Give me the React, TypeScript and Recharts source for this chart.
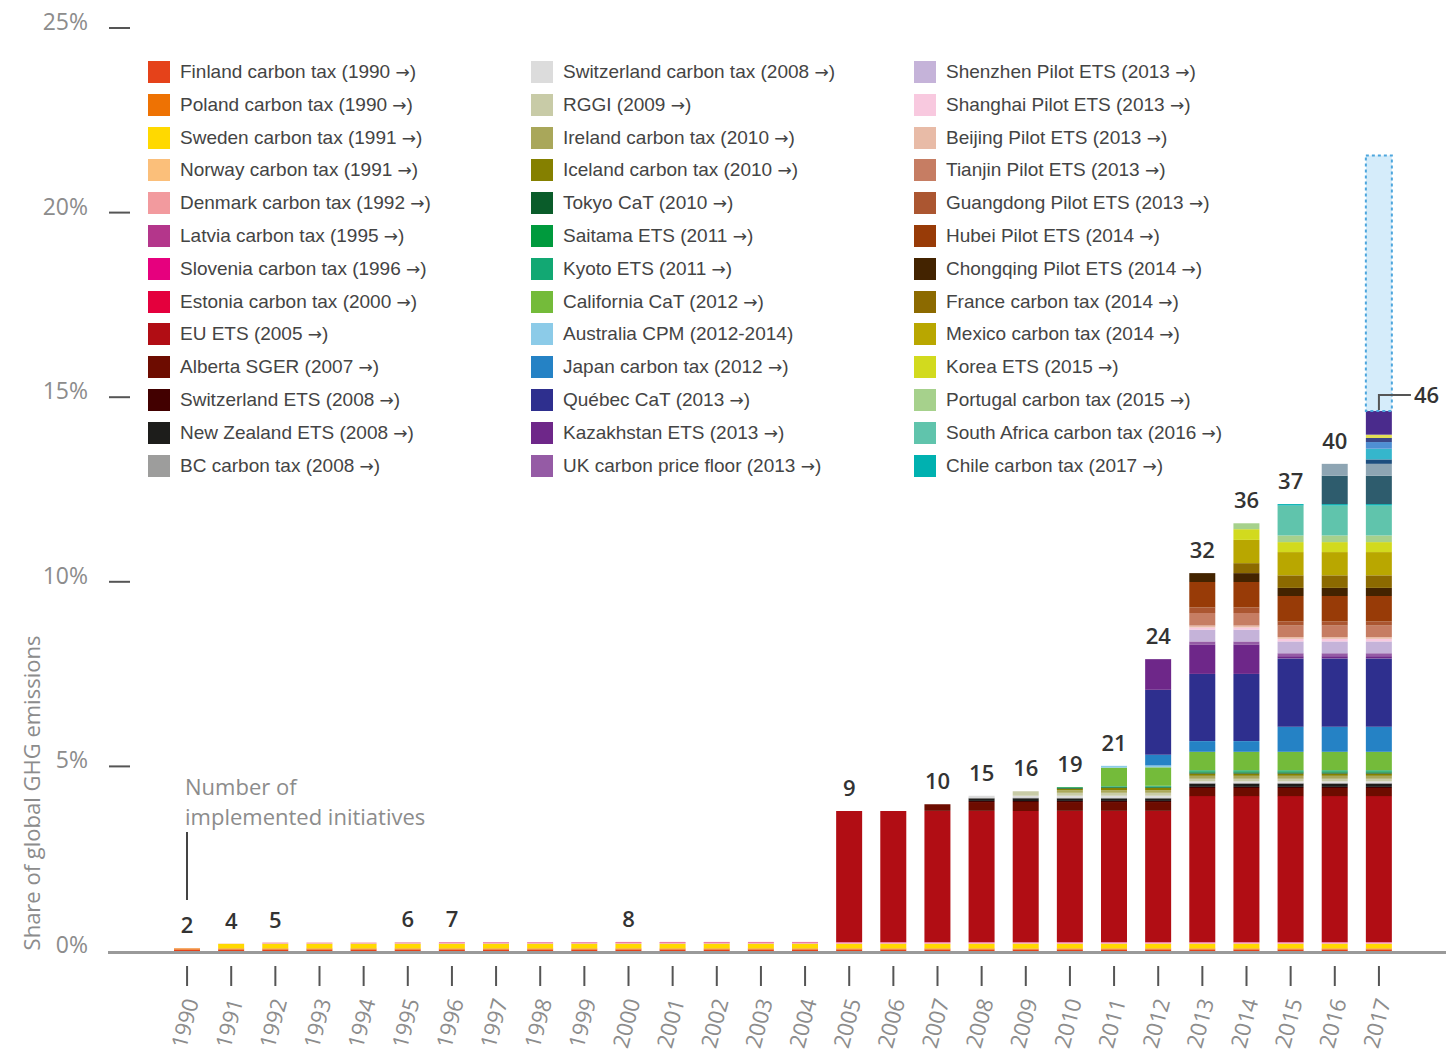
import React from 'react';
import { ComposedChart, Bar, Line, XAxis, YAxis, Legend, LabelList, ReferenceLine } from 'recharts';

// ---------- data ----------
const years = [
  '1990', '1991', '1992', '1993', '1994', '1995', '1996', '1997', '1998', '1999',
  '2000', '2001', '2002', '2003', '2004', '2005', '2006', '2007', '2008', '2009',
  '2010', '2011', '2012', '2013', '2014', '2015', '2016', '2017',
];
const initiativeCounts = [
  2, 4, 5, null, null, 6, 7, null, null, null,
  8, null, null, null, null, 9, null, 10, 15, 16,
  19, 21, 24, 32, 36, 37, 40, 46,
];
const yTicks = [0, 5, 10, 15, 20, 25];

// share of global GHG emissions (%), 1990 ... 2017
const finland = [0.04, 0.04, 0.04, 0.04, 0.04, 0.04, 0.04, 0.04, 0.04, 0.04, 0.04, 0.04, 0.04, 0.04, 0.04, 0.04, 0.04, 0.04, 0.04, 0.04, 0.04, 0.04, 0.04, 0.04, 0.04, 0.04, 0.04, 0.04];
const poland = [0.03, 0.03, 0.03, 0.03, 0.03, 0.03, 0.03, 0.03, 0.03, 0.03, 0.03, 0.03, 0.03, 0.03, 0.03, 0.03, 0.03, 0.03, 0.03, 0.03, 0.03, 0.03, 0.03, 0.03, 0.03, 0.03, 0.03, 0.03];
const sweden = [0, 0.12, 0.12, 0.12, 0.12, 0.12, 0.12, 0.12, 0.12, 0.12, 0.12, 0.12, 0.12, 0.12, 0.12, 0.12, 0.12, 0.12, 0.12, 0.12, 0.12, 0.12, 0.12, 0.12, 0.12, 0.12, 0.12, 0.12];
const norway = [0, 0.01, 0.01, 0.01, 0.01, 0.01, 0.01, 0.01, 0.01, 0.01, 0.01, 0.01, 0.01, 0.01, 0.01, 0.01, 0.01, 0.01, 0.01, 0.01, 0.01, 0.01, 0.01, 0.01, 0.01, 0.01, 0.01, 0.01];
const denmark = [0, 0, 0.03, 0.03, 0.03, 0.03, 0.03, 0.03, 0.03, 0.03, 0.03, 0.03, 0.03, 0.03, 0.03, 0.03, 0.03, 0.03, 0.03, 0.03, 0.03, 0.03, 0.03, 0.03, 0.03, 0.03, 0.03, 0.03];
const latvia = [0, 0, 0, 0, 0, 0.005, 0.005, 0.005, 0.005, 0.005, 0.005, 0.005, 0.005, 0.005, 0.005, 0.005, 0.005, 0.005, 0.005, 0.005, 0.005, 0.005, 0.005, 0.005, 0.005, 0.005, 0.005, 0.005];
const slovenia = [0, 0, 0, 0, 0, 0, 0.005, 0.005, 0.005, 0.005, 0.005, 0.005, 0.005, 0.005, 0.005, 0.005, 0.005, 0.005, 0.005, 0.005, 0.005, 0.005, 0.005, 0.005, 0.005, 0.005, 0.005, 0.005];
const estonia = [0, 0, 0, 0, 0, 0, 0, 0, 0, 0, 0.005, 0.005, 0.005, 0.005, 0.005, 0.005, 0.005, 0.005, 0.005, 0.005, 0.005, 0.005, 0.005, 0.005, 0.005, 0.005, 0.005, 0.005];
const euEts = [0, 0, 0, 0, 0, 0, 0, 0, 0, 0, 0, 0, 0, 0, 0, 3.55, 3.55, 3.55, 3.55, 3.55, 3.55, 3.55, 3.55, 3.95, 3.95, 3.95, 3.95, 3.95];
const alberta = [0, 0, 0, 0, 0, 0, 0, 0, 0, 0, 0, 0, 0, 0, 0, 0, 0, 0.18, 0.24, 0.24, 0.24, 0.24, 0.24, 0.22, 0.22, 0.22, 0.22, 0.22];
const switzEts = [0, 0, 0, 0, 0, 0, 0, 0, 0, 0, 0, 0, 0, 0, 0, 0, 0, 0, 0.03, 0.03, 0.03, 0.03, 0.03, 0.03, 0.03, 0.03, 0.03, 0.03];
const nzEts = [0, 0, 0, 0, 0, 0, 0, 0, 0, 0, 0, 0, 0, 0, 0, 0, 0, 0, 0.07, 0.07, 0.07, 0.07, 0.07, 0.09, 0.09, 0.09, 0.09, 0.09];
const bcTax = [0, 0, 0, 0, 0, 0, 0, 0, 0, 0, 0, 0, 0, 0, 0, 0, 0, 0, 0.02, 0.02, 0.02, 0.02, 0.02, 0.02, 0.02, 0.02, 0.02, 0.02];
const switzTax = [0, 0, 0, 0, 0, 0, 0, 0, 0, 0, 0, 0, 0, 0, 0, 0, 0, 0, 0.05, 0.05, 0.05, 0.05, 0.05, 0.04, 0.04, 0.04, 0.04, 0.04];
const rggi = [0, 0, 0, 0, 0, 0, 0, 0, 0, 0, 0, 0, 0, 0, 0, 0, 0, 0, 0, 0.12, 0.08, 0.08, 0.08, 0.07, 0.07, 0.07, 0.07, 0.07];
const ireland = [0, 0, 0, 0, 0, 0, 0, 0, 0, 0, 0, 0, 0, 0, 0, 0, 0, 0, 0, 0, 0.07, 0.07, 0.07, 0.08, 0.08, 0.08, 0.08, 0.08];
const iceland = [0, 0, 0, 0, 0, 0, 0, 0, 0, 0, 0, 0, 0, 0, 0, 0, 0, 0, 0, 0, 0.04, 0.06, 0.06, 0.06, 0.06, 0.06, 0.06, 0.06];
const tokyo = [0, 0, 0, 0, 0, 0, 0, 0, 0, 0, 0, 0, 0, 0, 0, 0, 0, 0, 0, 0, 0.02, 0.02, 0.02, 0.03, 0.03, 0.03, 0.03, 0.03];
const saitama = [0, 0, 0, 0, 0, 0, 0, 0, 0, 0, 0, 0, 0, 0, 0, 0, 0, 0, 0, 0, 0.02, 0.02, 0.02, 0.03, 0.03, 0.03, 0.03, 0.03];
const kyoto = [0, 0, 0, 0, 0, 0, 0, 0, 0, 0, 0, 0, 0, 0, 0, 0, 0, 0, 0, 0, 0, 0.01, 0.02, 0.03, 0.03, 0.03, 0.03, 0.03];
const california = [0, 0, 0, 0, 0, 0, 0, 0, 0, 0, 0, 0, 0, 0, 0, 0, 0, 0, 0, 0, 0, 0.5, 0.5, 0.5, 0.5, 0.5, 0.5, 0.5];
const australia = [0, 0, 0, 0, 0, 0, 0, 0, 0, 0, 0, 0, 0, 0, 0, 0, 0, 0, 0, 0, 0, 0.05, 0.05, 0, 0, 0, 0, 0];
const japan = [0, 0, 0, 0, 0, 0, 0, 0, 0, 0, 0, 0, 0, 0, 0, 0, 0, 0, 0, 0, 0, 0, 0.29, 0.29, 0.29, 0.68, 0.68, 0.68];
const quebec = [0, 0, 0, 0, 0, 0, 0, 0, 0, 0, 0, 0, 0, 0, 0, 0, 0, 0, 0, 0, 0, 0, 1.76, 1.82, 1.82, 1.85, 1.85, 1.85];
const kazakhstan = [0, 0, 0, 0, 0, 0, 0, 0, 0, 0, 0, 0, 0, 0, 0, 0, 0, 0, 0, 0, 0, 0, 0.83, 0.8, 0.8, 0.06, 0.06, 0.06];
const ukFloor = [0, 0, 0, 0, 0, 0, 0, 0, 0, 0, 0, 0, 0, 0, 0, 0, 0, 0, 0, 0, 0, 0, 0, 0.08, 0.08, 0.08, 0.08, 0.08];
const shenzhen = [0, 0, 0, 0, 0, 0, 0, 0, 0, 0, 0, 0, 0, 0, 0, 0, 0, 0, 0, 0, 0, 0, 0, 0.32, 0.32, 0.32, 0.32, 0.32];
const shanghai = [0, 0, 0, 0, 0, 0, 0, 0, 0, 0, 0, 0, 0, 0, 0, 0, 0, 0, 0, 0, 0, 0, 0, 0.06, 0.06, 0.07, 0.07, 0.07];
const beijing = [0, 0, 0, 0, 0, 0, 0, 0, 0, 0, 0, 0, 0, 0, 0, 0, 0, 0, 0, 0, 0, 0, 0, 0.05, 0.05, 0.05, 0.05, 0.05];
const tianjin = [0, 0, 0, 0, 0, 0, 0, 0, 0, 0, 0, 0, 0, 0, 0, 0, 0, 0, 0, 0, 0, 0, 0, 0.34, 0.34, 0.31, 0.31, 0.31];
const guangdong = [0, 0, 0, 0, 0, 0, 0, 0, 0, 0, 0, 0, 0, 0, 0, 0, 0, 0, 0, 0, 0, 0, 0, 0.15, 0.15, 0.11, 0.11, 0.11];
const hubei = [0, 0, 0, 0, 0, 0, 0, 0, 0, 0, 0, 0, 0, 0, 0, 0, 0, 0, 0, 0, 0, 0, 0, 0.69, 0.69, 0.69, 0.69, 0.69];
const chongqing = [0, 0, 0, 0, 0, 0, 0, 0, 0, 0, 0, 0, 0, 0, 0, 0, 0, 0, 0, 0, 0, 0, 0, 0.24, 0.24, 0.22, 0.22, 0.22];
const france = [0, 0, 0, 0, 0, 0, 0, 0, 0, 0, 0, 0, 0, 0, 0, 0, 0, 0, 0, 0, 0, 0, 0, 0, 0.27, 0.34, 0.34, 0.34];
const mexico = [0, 0, 0, 0, 0, 0, 0, 0, 0, 0, 0, 0, 0, 0, 0, 0, 0, 0, 0, 0, 0, 0, 0, 0, 0.63, 0.63, 0.63, 0.63];
const korea = [0, 0, 0, 0, 0, 0, 0, 0, 0, 0, 0, 0, 0, 0, 0, 0, 0, 0, 0, 0, 0, 0, 0, 0, 0.29, 0.27, 0.27, 0.27];
const portugal = [0, 0, 0, 0, 0, 0, 0, 0, 0, 0, 0, 0, 0, 0, 0, 0, 0, 0, 0, 0, 0, 0, 0, 0, 0.16, 0.18, 0.18, 0.18];
const southAfrica = [0, 0, 0, 0, 0, 0, 0, 0, 0, 0, 0, 0, 0, 0, 0, 0, 0, 0, 0, 0, 0, 0, 0, 0, 0, 0.81, 0.81, 0.81];
const chile = [0, 0, 0, 0, 0, 0, 0, 0, 0, 0, 0, 0, 0, 0, 0, 0, 0, 0, 0, 0, 0, 0, 0, 0, 0, 0.04, 0.04, 0.04];
// further segments drawn in the 2016 / 2017 bars (not listed in the legend)
const other2016a = [0, 0, 0, 0, 0, 0, 0, 0, 0, 0, 0, 0, 0, 0, 0, 0, 0, 0, 0, 0, 0, 0, 0, 0, 0, 0, 0.77, 0.77];
const other2016b = [0, 0, 0, 0, 0, 0, 0, 0, 0, 0, 0, 0, 0, 0, 0, 0, 0, 0, 0, 0, 0, 0, 0, 0, 0, 0, 0.32, 0.32];
const other2017a = [0, 0, 0, 0, 0, 0, 0, 0, 0, 0, 0, 0, 0, 0, 0, 0, 0, 0, 0, 0, 0, 0, 0, 0, 0, 0, 0, 0.12];
const other2017b = [0, 0, 0, 0, 0, 0, 0, 0, 0, 0, 0, 0, 0, 0, 0, 0, 0, 0, 0, 0, 0, 0, 0, 0, 0, 0, 0, 0.29];
const other2017c = [0, 0, 0, 0, 0, 0, 0, 0, 0, 0, 0, 0, 0, 0, 0, 0, 0, 0, 0, 0, 0, 0, 0, 0, 0, 0, 0, 0.18];
const other2017d = [0, 0, 0, 0, 0, 0, 0, 0, 0, 0, 0, 0, 0, 0, 0, 0, 0, 0, 0, 0, 0, 0, 0, 0, 0, 0, 0, 0.11];
const other2017e = [0, 0, 0, 0, 0, 0, 0, 0, 0, 0, 0, 0, 0, 0, 0, 0, 0, 0, 0, 0, 0, 0, 0, 0, 0, 0, 0, 0.09];
const other2017f = [0, 0, 0, 0, 0, 0, 0, 0, 0, 0, 0, 0, 0, 0, 0, 0, 0, 0, 0, 0, 0, 0, 0, 0, 0, 0, 0, 0.64];
const scheduled = [0, 0, 0, 0, 0, 0, 0, 0, 0, 0, 0, 0, 0, 0, 0, 0, 0, 0, 0, 0, 0, 0, 0, 0, 0, 0, 0, 6.92];

type Series = { key: string; name: string; color: string; values: number[]; legend: boolean };

const seriesList: Series[] = [
  { key: 'finland', name: 'Finland carbon tax (1990 →)', color: '#e5421a', values: finland, legend: true },
  { key: 'poland', name: 'Poland carbon tax (1990 →)', color: '#ee7203', values: poland, legend: true },
  { key: 'sweden', name: 'Sweden carbon tax (1991 →)', color: '#ffd900', values: sweden, legend: true },
  { key: 'norway', name: 'Norway carbon tax (1991 →)', color: '#fbbf7a', values: norway, legend: true },
  { key: 'denmark', name: 'Denmark carbon tax (1992 →)', color: '#f29a9e', values: denmark, legend: true },
  { key: 'latvia', name: 'Latvia carbon tax (1995 →)', color: '#b4368b', values: latvia, legend: true },
  { key: 'slovenia', name: 'Slovenia carbon tax (1996 →)', color: '#e6007e', values: slovenia, legend: true },
  { key: 'estonia', name: 'Estonia carbon tax (2000 →)', color: '#e4003d', values: estonia, legend: true },
  { key: 'euEts', name: 'EU ETS (2005 →)', color: '#b10d14', values: euEts, legend: true },
  { key: 'alberta', name: 'Alberta SGER (2007 →)', color: '#6d0c00', values: alberta, legend: true },
  { key: 'switzEts', name: 'Switzerland ETS (2008 →)', color: '#420000', values: switzEts, legend: true },
  { key: 'nzEts', name: 'New Zealand ETS (2008 →)', color: '#1d1d1b', values: nzEts, legend: true },
  { key: 'bcTax', name: 'BC carbon tax (2008 →)', color: '#9d9d9c', values: bcTax, legend: true },
  { key: 'switzTax', name: 'Switzerland carbon tax (2008 →)', color: '#dcdcdc', values: switzTax, legend: true },
  { key: 'rggi', name: 'RGGI (2009 →)', color: '#c8cba7', values: rggi, legend: true },
  { key: 'ireland', name: 'Ireland carbon tax (2010 →)', color: '#a9a75a', values: ireland, legend: true },
  { key: 'iceland', name: 'Iceland carbon tax (2010 →)', color: '#858000', values: iceland, legend: true },
  { key: 'tokyo', name: 'Tokyo CaT (2010 →)', color: '#0a5c2a', values: tokyo, legend: true },
  { key: 'saitama', name: 'Saitama ETS (2011 →)', color: '#009a3d', values: saitama, legend: true },
  { key: 'kyoto', name: 'Kyoto ETS (2011 →)', color: '#12a873', values: kyoto, legend: true },
  { key: 'california', name: 'California CaT (2012 →)', color: '#74bb3a', values: california, legend: true },
  { key: 'australia', name: 'Australia CPM (2012-2014)', color: '#8ccbe8', values: australia, legend: true },
  { key: 'japan', name: 'Japan carbon tax (2012 →)', color: '#2582c5', values: japan, legend: true },
  { key: 'quebec', name: 'Québec CaT (2013 →)', color: '#2e2f8e', values: quebec, legend: true },
  { key: 'kazakhstan', name: 'Kazakhstan ETS (2013 →)', color: '#6e2789', values: kazakhstan, legend: true },
  { key: 'ukFloor', name: 'UK carbon price floor (2013 →)', color: '#955ba5', values: ukFloor, legend: true },
  { key: 'shenzhen', name: 'Shenzhen Pilot ETS (2013 →)', color: '#c5b3d9', values: shenzhen, legend: true },
  { key: 'shanghai', name: 'Shanghai Pilot ETS (2013 →)', color: '#f8c9df', values: shanghai, legend: true },
  { key: 'beijing', name: 'Beijing Pilot ETS (2013 →)', color: '#e8bba7', values: beijing, legend: true },
  { key: 'tianjin', name: 'Tianjin Pilot ETS (2013 →)', color: '#c67d63', values: tianjin, legend: true },
  { key: 'guangdong', name: 'Guangdong Pilot ETS (2013 →)', color: '#ab5631', values: guangdong, legend: true },
  { key: 'hubei', name: 'Hubei Pilot ETS (2014 →)', color: '#983b07', values: hubei, legend: true },
  { key: 'chongqing', name: 'Chongqing Pilot ETS (2014 →)', color: '#432300', values: chongqing, legend: true },
  { key: 'france', name: 'France carbon tax (2014 →)', color: '#8c6a00', values: france, legend: true },
  { key: 'mexico', name: 'Mexico carbon tax (2014 →)', color: '#b9a700', values: mexico, legend: true },
  { key: 'korea', name: 'Korea ETS (2015 →)', color: '#d2da1e', values: korea, legend: true },
  { key: 'portugal', name: 'Portugal carbon tax (2015 →)', color: '#a6d18c', values: portugal, legend: true },
  { key: 'southAfrica', name: 'South Africa carbon tax (2016 →)', color: '#60c4ac', values: southAfrica, legend: true },
  { key: 'chile', name: 'Chile carbon tax (2017 →)', color: '#00b1b0', values: chile, legend: true },
  { key: 'other2016a', name: 'Other initiative', color: '#2e5c6d', values: other2016a, legend: false },
  { key: 'other2016b', name: 'Other initiative', color: '#8ea5b3', values: other2016b, legend: false },
  { key: 'other2017a', name: 'Other initiative', color: '#1d4e7e', values: other2017a, legend: false },
  { key: 'other2017b', name: 'Other initiative', color: '#35b6cc', values: other2017b, legend: false },
  { key: 'other2017c', name: 'Other initiative', color: '#4f8fd3', values: other2017c, legend: false },
  { key: 'other2017d', name: 'Other initiative', color: '#3b4788', values: other2017d, legend: false },
  { key: 'other2017e', name: 'Other initiative', color: '#e2df55', values: other2017e, legend: false },
  { key: 'other2017f', name: 'Other initiative', color: '#4a2b8c', values: other2017f, legend: false },
];

const lastIndex = years.length - 1;
const chartData = years.map((year, i) => {
  const row: Record<string, any> = {
    year,
    scheduled: scheduled[i],
    countLabel: i === lastIndex ? null : initiativeCounts[i],
    leaderLabel: i === lastIndex ? initiativeCounts[i] : null,
  };
  let total = 0;
  seriesList.forEach((s) => {
    row[s.key] = s.values[i];
    total += s.values[i];
  });
  row.total = total;
  return row;
});

// ---------- layout ----------
const W = 1446;
const H = 1054;
const AXIS_GRAY = '#8c8c8c';
const SANS = "'Open Sans', 'DejaVu Sans', sans-serif";
const LEGEND_FONT = "'Liberation Sans', Arial, sans-serif";

const YTick = (props: any) => {
  const { y, payload } = props;
  return (
    <g>
      <text x={88} y={y + 2} textAnchor="end" fontSize={23} fill={AXIS_GRAY} fontFamily={SANS}>
        {`${payload.value}%`}
      </text>
      {payload.value !== 0 && <line x1={109} x2={130} y1={y} y2={y} stroke="#555" strokeWidth={2} />}
    </g>
  );
};

const XTick = (props: any) => {
  const { x, payload } = props;
  return (
    <g>
      <line x1={x} x2={x} y1={966} y2={986} stroke="#555" strokeWidth={2} />
      <text
        transform={`translate(${x + 12},${1001}) rotate(-75)`}
        textAnchor="end"
        fontSize={22}
        fill={AXIS_GRAY}
        fontFamily={SANS}
      >
        {payload.value}
      </text>
    </g>
  );
};

const CountLabel = (props: any) => {
  const { x, y, value } = props;
  if (value === null || value === undefined) return null;
  return (
    <text x={x} y={Number(y) - 15} textAnchor="middle" fontSize={22} fontWeight={600} fill="#333" fontFamily={SANS}>
      {value}
    </text>
  );
};

const LeaderLabel = (props: any) => {
  const { x, y, value } = props;
  if (value === null || value === undefined) return null;
  const cx = Number(x);
  const top = Number(y);
  return (
    <g>
      <path d={`M${cx},${top - 1} V${top - 16} H${cx + 32}`} fill="none" stroke="#555" strokeWidth={2} />
      <text x={cx + 35} y={top - 8} fontSize={22} fontWeight={600} fill="#333" fontFamily={SANS}>
        {value}
      </text>
    </g>
  );
};

const LegendName = ({ name }: { name: string }) => {
  const parts = name.split('→');
  if (parts.length === 1) return <>{name}</>;
  return (
    <>
      {parts[0]}
      <span style={{ fontFamily: "'DejaVu Sans', sans-serif", fontSize: 17 }}>→</span>
      {parts[1]}
    </>
  );
};

const legendCols = [148, 531, 914];
const LegendContent = () => {
  const items = seriesList.filter((s) => s.legend);
  return (
    <div style={{ position: 'relative', width: W, height: 490 }}>
      {items.map((s, i) => {
        const col = Math.floor(i / 13);
        const row = i % 13;
        const cy = 72 + row * 32.8;
        const left = legendCols[col];
        return (
          <div key={s.key} style={{ position: 'absolute', left, top: cy - 12, height: 24, display: 'flex', alignItems: 'center', whiteSpace: 'nowrap' }}>
            <div style={{ width: 22, height: 22, background: s.color, marginRight: 10 }} />
            <span style={{ fontFamily: LEGEND_FONT, fontSize: 19, color: '#444', lineHeight: '24px' }}>
              <LegendName name={s.name} />
            </span>
          </div>
        );
      })}
    </div>
  );
};

export default function App() {
  return (
    <div style={{ width: W, height: H, background: '#fff' }}>
      <style>{'body{margin:0;background:#fff;}'}</style>
      <ComposedChart width={W} height={H} data={chartData} margin={{ top: 28, right: 0, bottom: 3, left: 0 }} barSize={26}>
        <XAxis
          dataKey="year"
          interval={0}
          height={100}
          padding={{ left: 57, right: 45 }}
          axisLine={false}
          tickLine={false}
          tick={<XTick />}
        />
        <YAxis
          width={108}
          domain={[0, 25]}
          ticks={yTicks}
          axisLine={false}
          tickLine={false}
          tick={<YTick />}
          allowDataOverflow
        />
        <Legend
          layout="horizontal"
          verticalAlign="middle"
          align="center"
          content={<LegendContent />}
          wrapperStyle={{ top: 0, left: 0, width: W, height: 490 }}
        />
        {seriesList.map((s) => (
          <Bar key={s.key} dataKey={s.key} name={s.name} stackId="a" fill={s.color} isAnimationActive={false} />
        ))}
        <Bar
          dataKey="scheduled"
          name="Scheduled"
          stackId="a"
          fill="#d5ecfa"
          stroke="#4da6dd"
          strokeWidth={2}
          strokeDasharray="3 3"
          isAnimationActive={false}
        />
        <ReferenceLine y={-0.04} stroke="#9a9a9a" strokeWidth={3} ifOverflow="visible" />
        <Line dataKey="total" stroke="none" dot={false} activeDot={false} legendType="none" isAnimationActive={false}>
          <LabelList dataKey="countLabel" content={<CountLabel />} />
          <LabelList dataKey="leaderLabel" content={<LeaderLabel />} />
        </Line>
        <g>
          <text transform="translate(40,793) rotate(-90)" textAnchor="middle" fontSize={22} fill={AXIS_GRAY} fontFamily={SANS}>
            Share of global GHG emissions
          </text>
          <text x={185} y={795} fontSize={22} fill={AXIS_GRAY} fontFamily={SANS}>
            Number of
          </text>
          <text x={185} y={825} fontSize={22} fill={AXIS_GRAY} fontFamily={SANS}>
            implemented initiatives
          </text>
          <line x1={187} x2={187} y1={832} y2={900} stroke="#444" strokeWidth={2} />
        </g>
      </ComposedChart>
    </div>
  );
}
